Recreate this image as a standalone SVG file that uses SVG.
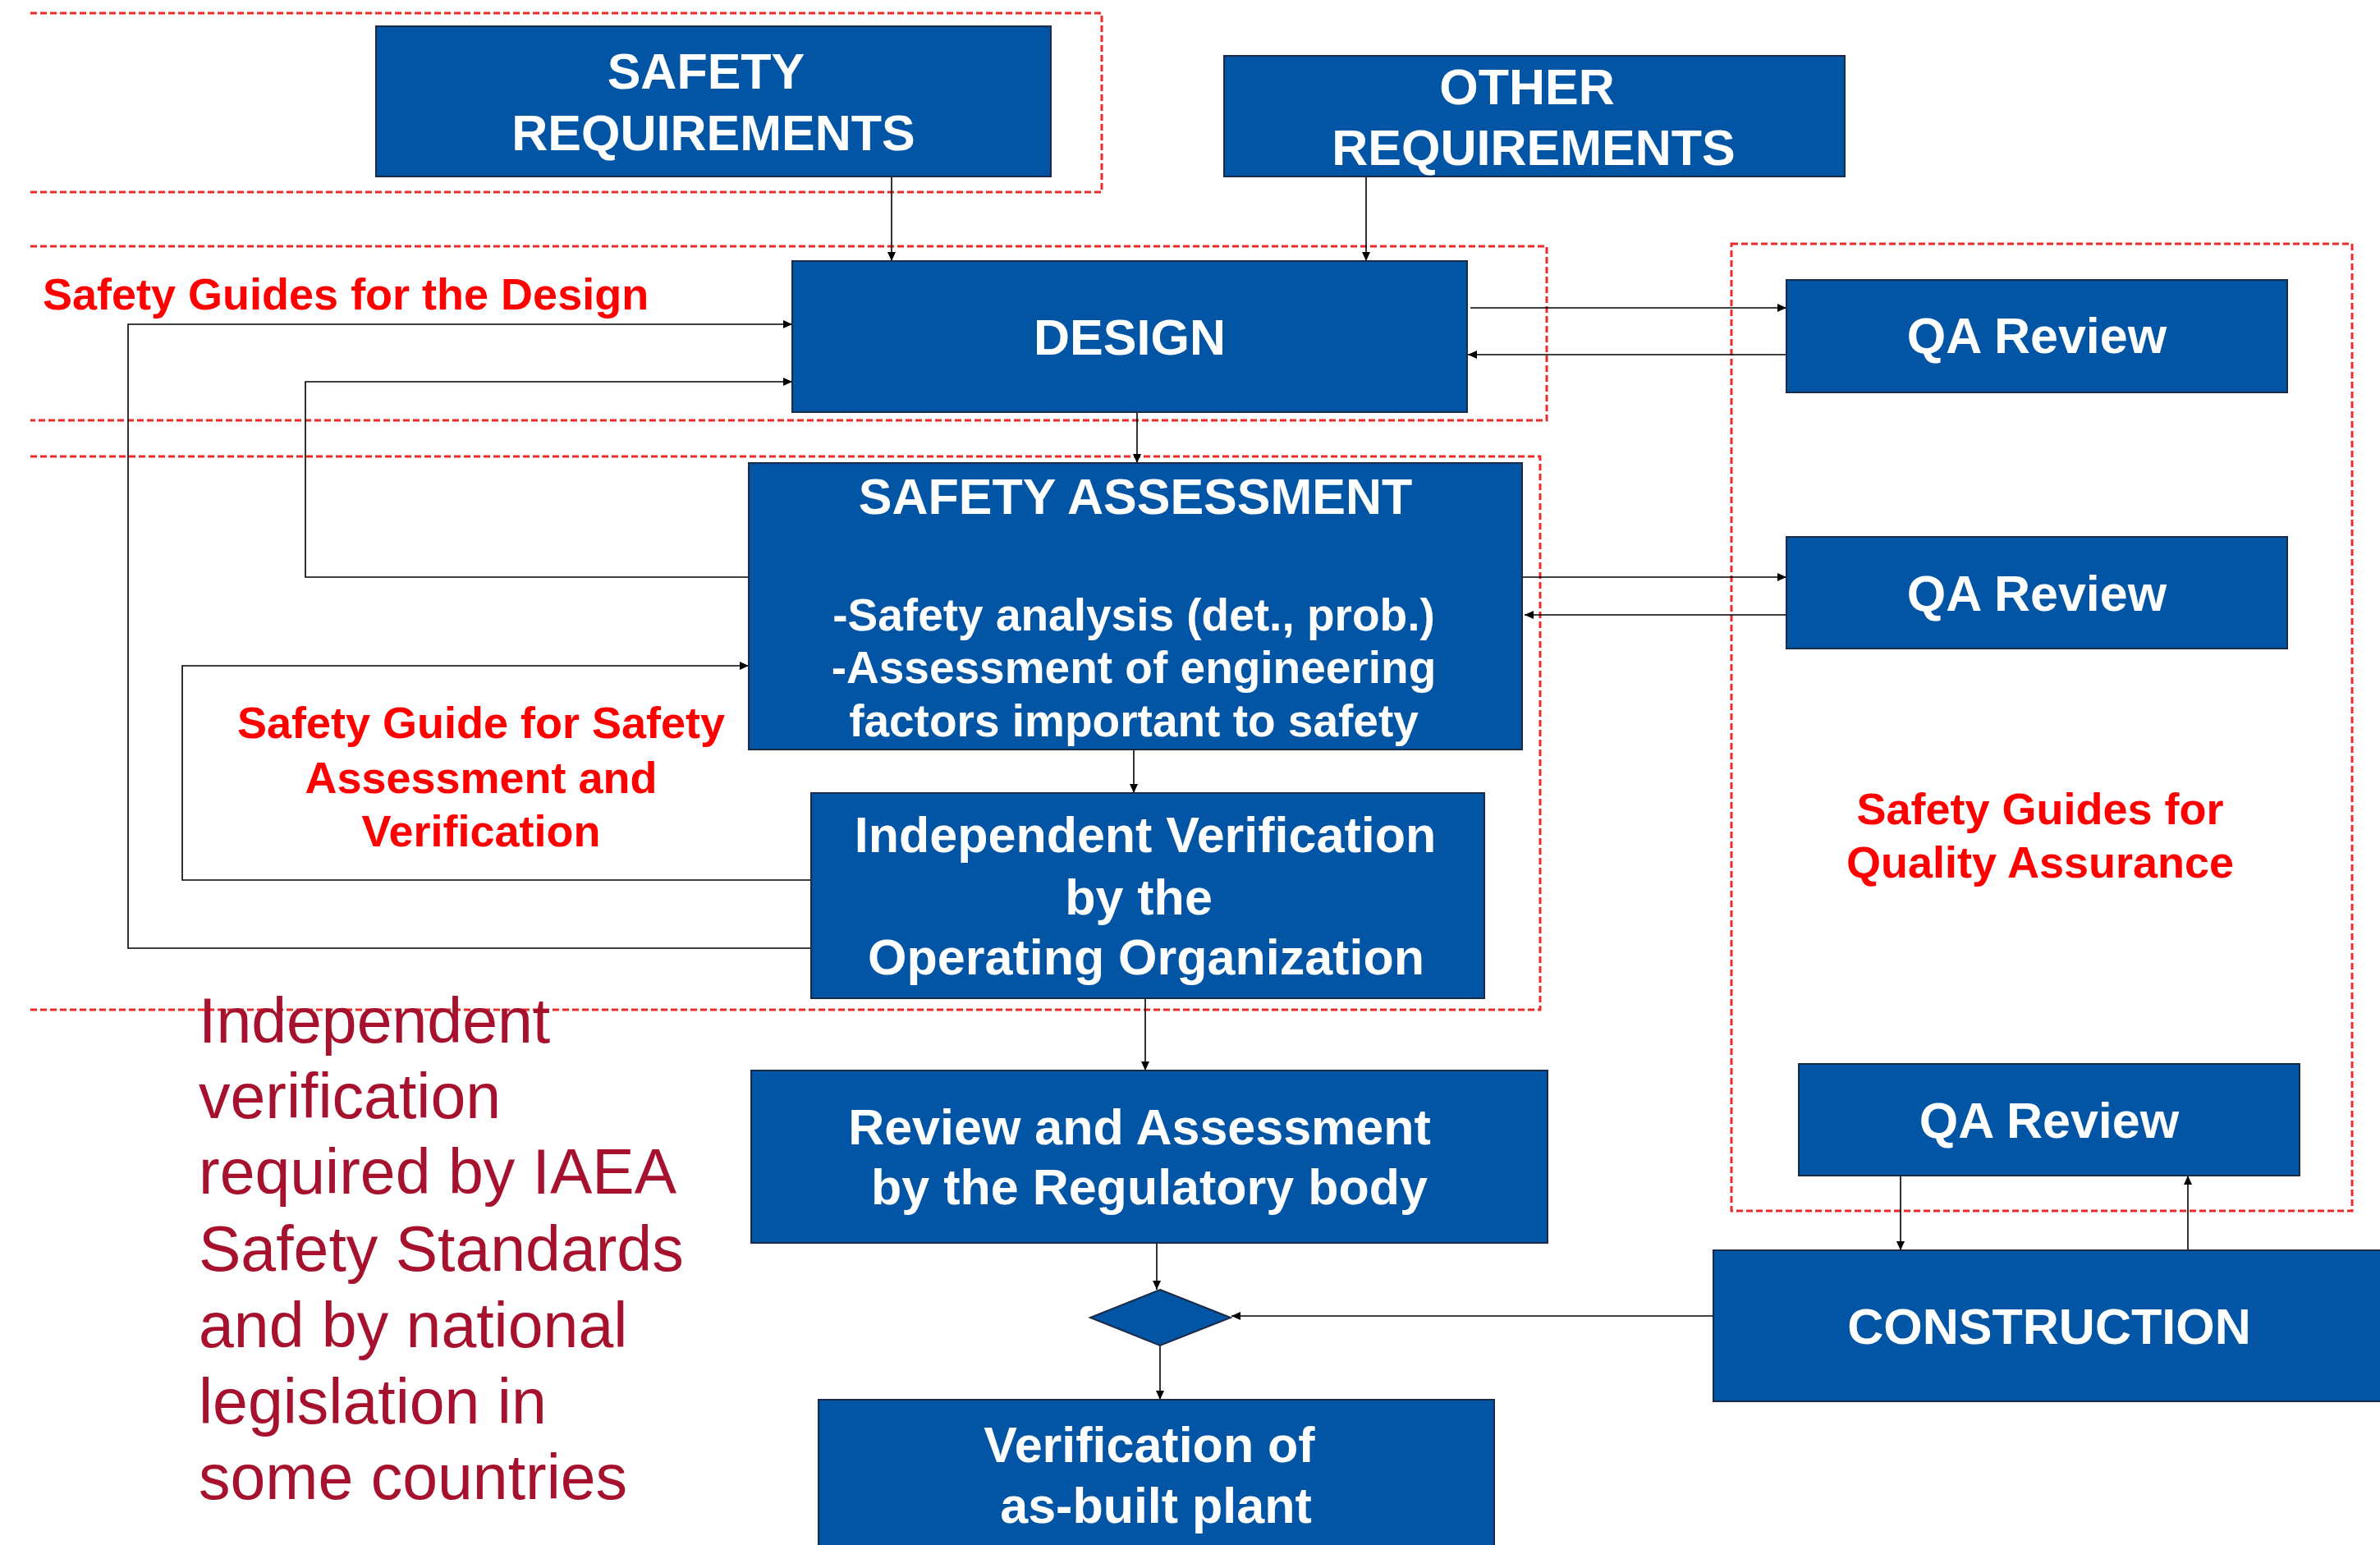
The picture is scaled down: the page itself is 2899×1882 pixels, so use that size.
<svg xmlns="http://www.w3.org/2000/svg" width="2899" height="1882" viewBox="0 0 2899 1882">
<defs>
<style>
.box{fill:#0254A4;stroke:#1B2A47;stroke-width:2}
.bt{font-family:"Liberation Sans",Arial,sans-serif;font-weight:bold;fill:#FFFFFF;font-size:61px;text-anchor:middle}
.bs{font-size:55px}
.guide{font-family:"Liberation Sans",Arial,sans-serif;font-weight:bold;fill:#FF0000;font-size:54px;text-anchor:middle}
.note{font-family:"Liberation Sans",Arial,sans-serif;fill:#A6122E;font-size:77px}
.dash{fill:none;stroke:#EE2A2A;stroke-width:3;stroke-dasharray:8 4}
.conn{fill:none;stroke:#000000;stroke-width:1.6}
</style>
<marker id="ah" markerUnits="userSpaceOnUse" markerWidth="12" markerHeight="10" refX="11" refY="5" orient="auto">
<path d="M0,0 L11,5 L0,10 z" fill="#000000"/>
</marker>
</defs>
<rect width="2899" height="1882" fill="#FFFFFF"/>

<g id="regions">
<path class="dash" d="M37,16 H1342 V234 H37"/>
<path class="dash" d="M37,300 H1884 V512 H37"/>
<path class="dash" d="M37,556 H1876 V1230 H37"/>
<rect class="dash" x="2109" y="297" width="756" height="1178"/>
</g>

<g id="labels">
<text class="guide" x="52" y="377" style="text-anchor:start">Safety Guides for the Design</text>
<text class="guide" x="586" y="899">Safety Guide for Safety</text>
<text class="guide" x="586" y="966">Assessment and</text>
<text class="guide" x="586" y="1031">Verification</text>
<text class="guide" x="2485" y="1004">Safety Guides for</text>
<text class="guide" x="2485" y="1069">Quality Assurance</text>
<text class="note" x="242" y="1270">Independent</text>
<text class="note" x="242" y="1362">verification</text>
<text class="note" x="242" y="1454">required by IAEA</text>
<text class="note" x="242" y="1548">Safety Standards</text>
<text class="note" x="242" y="1641">and by national</text>
<text class="note" x="242" y="1734">legislation in</text>
<text class="note" x="242" y="1826">some countries</text>
</g>

<g id="connectors">
<path class="conn" d="M1086,215 V318" marker-end="url(#ah)"/>
<path class="conn" d="M1664,215 V318" marker-end="url(#ah)"/>
<path class="conn" d="M1791,375 H2176" marker-end="url(#ah)"/>
<path class="conn" d="M2176,432 H1788" marker-end="url(#ah)"/>
<path class="conn" d="M1385,502 V564" marker-end="url(#ah)"/>
<path class="conn" d="M912,703 H372 V465 H965" marker-end="url(#ah)"/>
<path class="conn" d="M988,1155 H156 V395 H965" marker-end="url(#ah)"/>
<path class="conn" d="M988,1072 H222 V811 H912" marker-end="url(#ah)"/>
<path class="conn" d="M1854,703 H2176" marker-end="url(#ah)"/>
<path class="conn" d="M2176,749 H1857" marker-end="url(#ah)"/>
<path class="conn" d="M1381,913 V966" marker-end="url(#ah)"/>
<path class="conn" d="M1395,1216 V1304" marker-end="url(#ah)"/>
<path class="conn" d="M1409,1514 V1571" marker-end="url(#ah)"/>
<path class="conn" d="M2087,1603 H1500" marker-end="url(#ah)"/>
<path class="conn" d="M1413,1639 V1705" marker-end="url(#ah)"/>
<path class="conn" d="M2315,1432 V1523" marker-end="url(#ah)"/>
<path class="conn" d="M2665,1523 V1432" marker-end="url(#ah)"/>
</g>

<g id="safety-requirements">
<rect class="box" x="458" y="32" width="822" height="183"/>
<text class="bt" x="860" y="108">SAFETY</text>
<text class="bt" x="869" y="183">REQUIREMENTS</text>
</g>

<g id="other-requirements">
<rect class="box" x="1491" y="68" width="756" height="147"/>
<text class="bt" x="1860" y="127">OTHER</text>
<text class="bt" x="1868" y="201">REQUIREMENTS</text>
</g>

<g id="design">
<rect class="box" x="965" y="318" width="822" height="184"/>
<text class="bt" x="1376" y="432">DESIGN</text>
</g>

<g id="qa-review-1">
<rect class="box" x="2176" y="341" width="610" height="137"/>
<text class="bt" x="2481" y="430">QA Review</text>
</g>

<g id="safety-assessment">
<rect class="box" x="912" y="564" width="942" height="349"/>
<text class="bt" x="1383" y="626">SAFETY ASSESSMENT</text>
<text class="bt bs" x="1381" y="768">-Safety analysis (det., prob.)</text>
<text class="bt bs" x="1381" y="832">-Assessment of engineering</text>
<text class="bt bs" x="1381" y="897">factors important to safety</text>
</g>

<g id="qa-review-2">
<rect class="box" x="2176" y="654" width="610" height="136"/>
<text class="bt" x="2481" y="744">QA Review</text>
</g>

<g id="independent-verification">
<rect class="box" x="988" y="966" width="820" height="250"/>
<text class="bt" x="1395" y="1038">Independent Verification</text>
<text class="bt" x="1387" y="1114">by the</text>
<text class="bt" x="1396" y="1187">Operating Organization</text>
</g>

<g id="qa-review-3">
<rect class="box" x="2191" y="1296" width="610" height="136"/>
<text class="bt" x="2496" y="1386">QA Review</text>
</g>

<g id="regulatory-review">
<rect class="box" x="915" y="1304" width="970" height="210"/>
<text class="bt" x="1388" y="1394">Review and Assessment</text>
<text class="bt" x="1400" y="1467">by the Regulatory body</text>
</g>

<g id="decision">
<path class="box" d="M1413,1571 L1499,1605 L1413,1639 L1328,1605 z"/>
</g>

<g id="construction">
<rect class="box" x="2087" y="1523" width="830" height="184"/>
<text class="bt" x="2496" y="1637">CONSTRUCTION</text>
</g>

<g id="verification-as-built">
<rect class="box" x="997" y="1705" width="823" height="200"/>
<text class="bt" x="1400" y="1781">Verification of</text>
<text class="bt" x="1408" y="1855">as-built plant</text>
</g>
</svg>
